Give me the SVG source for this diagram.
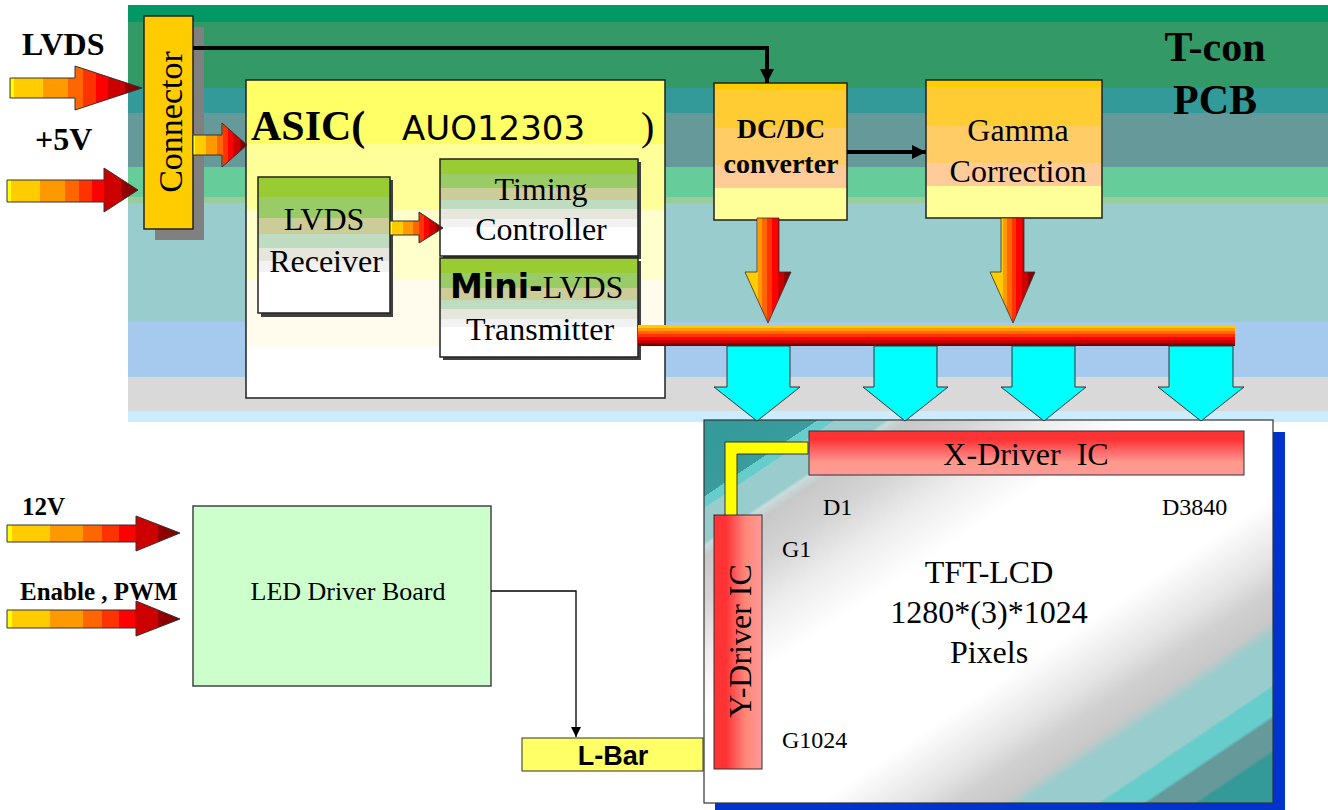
<svg xmlns="http://www.w3.org/2000/svg" width="1328" height="810" viewBox="0 0 1328 810">
<style>
.serif{font-family:"Liberation Serif","Times New Roman",serif;fill:#000}
.sans{font-family:"Liberation Sans",Arial,sans-serif;fill:#000}
.dv{font-family:"DejaVu Sans",Verdana,sans-serif;fill:#000}
.b{font-weight:bold}
.box{stroke:#222;stroke-width:1.5}
.shadow{fill:#404040}
.cyan{fill:#00FFFF;stroke:#333;stroke-width:1}
.thick{stroke:#000;stroke-width:4;fill:none}
</style>
<defs>
<linearGradient id="gIn" x1="0" y1="0" x2="1" y2="0">
<stop offset="0" stop-color="#FFFF00"/><stop offset="0.03" stop-color="#FFFF00"/>
<stop offset="0.03" stop-color="#FFCC00"/><stop offset="0.25" stop-color="#FFCC00"/>
<stop offset="0.25" stop-color="#FF9900"/><stop offset="0.44" stop-color="#FF9900"/>
<stop offset="0.44" stop-color="#FF6600"/><stop offset="0.55" stop-color="#FF6600"/>
<stop offset="0.55" stop-color="#FF3300"/><stop offset="0.65" stop-color="#FF3300"/>
<stop offset="0.65" stop-color="#FF0000"/><stop offset="0.74" stop-color="#FF0000"/>
<stop offset="0.74" stop-color="#CC0000"/><stop offset="0.87" stop-color="#CC0000"/>
<stop offset="0.87" stop-color="#990000"/><stop offset="1" stop-color="#770000"/>
</linearGradient>
<linearGradient id="gDown" x1="0" y1="0" x2="1" y2="0">
<stop offset="0" stop-color="#FFCC00"/><stop offset="0.28" stop-color="#FFCC00"/>
<stop offset="0.28" stop-color="#FF9900"/><stop offset="0.38" stop-color="#FF9900"/>
<stop offset="0.38" stop-color="#FF6600"/><stop offset="0.48" stop-color="#FF6600"/>
<stop offset="0.48" stop-color="#FF3300"/><stop offset="0.58" stop-color="#FF3300"/>
<stop offset="0.58" stop-color="#FF0000"/><stop offset="0.72" stop-color="#FF0000"/>
<stop offset="0.72" stop-color="#CC0000"/><stop offset="0.85" stop-color="#CC0000"/>
<stop offset="0.85" stop-color="#990000"/><stop offset="1" stop-color="#770000"/>
</linearGradient>
<linearGradient id="gBus" x1="0" y1="0" x2="0" y2="1">
<stop offset="0" stop-color="#FFCC00"/><stop offset="0.15" stop-color="#FFCC00"/>
<stop offset="0.15" stop-color="#FF9900"/><stop offset="0.28" stop-color="#FF9900"/>
<stop offset="0.28" stop-color="#FF6600"/><stop offset="0.42" stop-color="#FF6600"/>
<stop offset="0.42" stop-color="#FF3300"/><stop offset="0.56" stop-color="#FF3300"/>
<stop offset="0.56" stop-color="#FF0000"/><stop offset="0.7" stop-color="#FF0000"/>
<stop offset="0.7" stop-color="#CC0000"/><stop offset="0.85" stop-color="#CC0000"/>
<stop offset="0.85" stop-color="#880000"/><stop offset="1" stop-color="#660000"/>
</linearGradient>
<linearGradient id="gAsic" x1="0" y1="0" x2="0" y2="1">
<stop offset="0" stop-color="#FFFF66"/><stop offset="0.2" stop-color="#FFFF66"/>
<stop offset="0.2" stop-color="#FFFF99"/><stop offset="0.41" stop-color="#FFFF99"/>
<stop offset="0.41" stop-color="#FFFFCC"/><stop offset="0.63" stop-color="#FFFFCC"/>
<stop offset="0.63" stop-color="#FFFCEE"/><stop offset="0.84" stop-color="#FFFCEE"/>
<stop offset="0.84" stop-color="#FFFFFF"/><stop offset="1" stop-color="#FFFFFF"/>
</linearGradient>
<linearGradient id="gGreen" x1="0" y1="0" x2="0" y2="1">
<stop offset="0" stop-color="#99CC33"/><stop offset="0.15" stop-color="#99CC33"/>
<stop offset="0.15" stop-color="#99CC66"/><stop offset="0.3" stop-color="#99CC66"/>
<stop offset="0.3" stop-color="#CCCC99"/><stop offset="0.42" stop-color="#CCCC99"/>
<stop offset="0.42" stop-color="#C0DCC0"/><stop offset="0.52" stop-color="#C0DCC0"/>
<stop offset="0.52" stop-color="#E6E6DC"/><stop offset="0.62" stop-color="#E6E6DC"/>
<stop offset="0.62" stop-color="#F2F2F2"/><stop offset="0.7" stop-color="#F2F2F2"/>
<stop offset="0.7" stop-color="#FFFFFF"/><stop offset="1" stop-color="#FFFFFF"/>
</linearGradient>
<linearGradient id="gOrange" x1="0" y1="0" x2="0" y2="1">
<stop offset="0" stop-color="#FFCC00"/><stop offset="0.05" stop-color="#FFCC00"/>
<stop offset="0.05" stop-color="#FFCC33"/><stop offset="0.33" stop-color="#FFCC33"/>
<stop offset="0.33" stop-color="#FFCC66"/><stop offset="0.6" stop-color="#FFCC66"/>
<stop offset="0.6" stop-color="#FFCC99"/><stop offset="0.77" stop-color="#FFCC99"/>
<stop offset="0.77" stop-color="#FFFF99"/><stop offset="1" stop-color="#FFFF99"/>
</linearGradient>
<linearGradient id="gX" x1="0" y1="0" x2="0" y2="1">
<stop offset="0" stop-color="#FF3333"/><stop offset="0.2" stop-color="#FF3333"/>
<stop offset="0.45" stop-color="#FF6666"/><stop offset="0.6" stop-color="#FF8080"/>
<stop offset="0.7" stop-color="#FF9988"/><stop offset="1" stop-color="#FF9999"/>
</linearGradient>
<linearGradient id="gY" x1="0" y1="0" x2="1" y2="0">
<stop offset="0" stop-color="#FF3333"/><stop offset="0.25" stop-color="#FF3333"/>
<stop offset="0.5" stop-color="#FF6666"/><stop offset="0.65" stop-color="#FF8877"/>
<stop offset="1" stop-color="#FF9999"/>
</linearGradient>
<linearGradient id="gPanel" x1="0" y1="0" x2="1" y2="1">
<stop offset="0" stop-color="#339999"/><stop offset="0.1" stop-color="#3A9C9C"/>
<stop offset="0.1" stop-color="#66CCCC"/><stop offset="0.115" stop-color="#66CCCC"/>
<stop offset="0.115" stop-color="#99CCCC"/><stop offset="0.16" stop-color="#99CCCC"/>
<stop offset="0.165" stop-color="#C8DCDC"/><stop offset="0.18" stop-color="#C8C8C8"/>
<stop offset="0.235" stop-color="#D4D4D4"/><stop offset="0.3" stop-color="#ECECEC"/>
<stop offset="0.38" stop-color="#FFFFFF"/><stop offset="0.6" stop-color="#FFFFFF"/>
<stop offset="0.68" stop-color="#E4E4E4"/><stop offset="0.72" stop-color="#D0D0D0"/>
<stop offset="0.76" stop-color="#C8C8C8"/><stop offset="0.78" stop-color="#99CCCC"/>
<stop offset="0.845" stop-color="#99CCCC"/><stop offset="0.85" stop-color="#66CCCC"/>
<stop offset="0.885" stop-color="#66CCCC"/><stop offset="0.89" stop-color="#669999"/>
<stop offset="0.93" stop-color="#669999"/><stop offset="0.935" stop-color="#339999"/>
<stop offset="1" stop-color="#339999"/>
</linearGradient>
<marker id="mBig" markerUnits="userSpaceOnUse" markerWidth="16" markerHeight="16" refX="14" refY="8" orient="auto">
<path d="M0,1 L14,8 L0,15 Z" fill="#000"/>
</marker>
<marker id="mSmall" markerUnits="userSpaceOnUse" markerWidth="12" markerHeight="12" refX="10" refY="6" orient="auto">
<path d="M0,1 L10,6 L0,11 Z" fill="#000"/>
</marker>
</defs>

<rect width="1328" height="810" fill="#FFFFFF"/>

<g id="tcon-pcb">
<rect x="128" y="5" width="1200" height="17" fill="#009966"/>
<rect x="128" y="22" width="1200" height="66" fill="#339966"/>
<rect x="128" y="88" width="1200" height="25" fill="#339999"/>
<rect x="128" y="113" width="1200" height="54" fill="#669999"/>
<rect x="128" y="167" width="1200" height="30" fill="#66CC99"/>
<rect x="128" y="197" width="1200" height="6" fill="#99CC99"/>
<rect x="128" y="203" width="1200" height="119" fill="#99CCCC"/>
<rect x="128" y="322" width="1200" height="55" fill="#A6C9EE"/>
<rect x="128" y="377" width="1200" height="34" fill="#D9D9D9"/>
<rect x="128" y="411" width="1200" height="11" fill="#CCECFF"/>
<text class="serif b" x="1215" y="61" font-size="42" text-anchor="middle">T-con</text>
<text class="serif b" x="1215" y="114" font-size="42" text-anchor="middle">PCB</text>
</g>

<g id="inputs">
<text class="serif b" x="22" y="55" font-size="32">LVDS</text>
<text class="serif b" x="35" y="150" font-size="32">+5V</text>
<polygon points="10,78 75,78 75,66 142,88 75,110 75,98 10,98" fill="url(#gIn)" stroke="#333" stroke-width="1"/>
<polygon points="7,180 104,180 104,168 138,190 104,212 104,202 7,202" fill="url(#gIn)" stroke="#333" stroke-width="1"/>
</g>

<g id="connector">
<rect x="155" y="27" width="49" height="213" fill="#808080"/>
<rect x="144" y="16" width="49" height="213" fill="#FFCC00" class="box"/>
<text class="serif" font-size="34" text-anchor="middle" transform="translate(182,122) rotate(-90)">Connector</text>
</g>

<g id="asic">
<rect x="246" y="80" width="419" height="318" fill="url(#gAsic)" class="box"/>
<text class="serif b" x="251" y="140" font-size="42">ASIC(</text>
<text class="dv" x="402" y="140" font-size="34">AUO12303</text>
<text class="serif" x="641" y="140" font-size="40">)</text>
</g>

<g id="lvds-receiver">
<rect x="261" y="180" width="132" height="137" class="shadow"/>
<rect x="258" y="177" width="132" height="136" fill="url(#gGreen)" class="box"/>
<text class="serif" x="324" y="230" font-size="32" text-anchor="middle">LVDS</text>
<text class="serif" x="326" y="272" font-size="32" text-anchor="middle">Receiver</text>
</g>

<g id="timing-controller">
<rect x="443" y="162" width="198" height="97" class="shadow"/>
<rect x="440" y="159" width="198" height="97" fill="url(#gGreen)" class="box"/>
<text class="serif" x="541" y="200" font-size="32" text-anchor="middle">Timing</text>
<text class="serif" x="541" y="240" font-size="32" text-anchor="middle">Controller</text>
</g>

<g id="mini-lvds">
<rect x="443" y="261" width="198" height="99" class="shadow"/>
<rect x="440" y="258" width="198" height="99" fill="url(#gGreen)" class="box"/>
<text x="450" y="298"><tspan class="dv b" font-size="33">Mini-</tspan><tspan class="serif" font-size="32">LVDS</tspan></text>
<text class="serif" x="540" y="340" font-size="32" text-anchor="middle">Transmitter</text>
</g>

<g id="dcdc">
<rect x="714" y="83" width="133" height="137" fill="url(#gOrange)" class="box"/>
<text class="serif b" x="781" y="138" font-size="28" text-anchor="middle">DC/DC</text>
<text class="serif b" x="781" y="173" font-size="28" text-anchor="middle">converter</text>
</g>

<g id="gamma">
<rect x="926" y="80" width="176" height="138" fill="url(#gOrange)" class="box"/>
<text class="serif" x="1018" y="141" font-size="32" text-anchor="middle">Gamma</text>
<text class="serif" x="1018" y="182" font-size="32" text-anchor="middle">Correction</text>
</g>

<g id="led-driver">
<rect x="193" y="506" width="298" height="180" fill="#CCFFCC" stroke="#444" stroke-width="1.5"/>
<text class="serif" x="348" y="600" font-size="26" text-anchor="middle">LED Driver Board</text>
<text class="serif b" x="22" y="515" font-size="25">12V</text>
<text class="serif b" x="20" y="600" font-size="25">Enable , PWM</text>
<polygon points="7,525 136,525 136,516 180,533 136,551 136,542 7,542" fill="url(#gIn)" stroke="#333" stroke-width="1"/>
<polygon points="7,610 136,610 136,601 180,619 136,636 136,628 7,628" fill="url(#gIn)" stroke="#333" stroke-width="1"/>
</g>

<g id="lcd-panel">
<rect x="715" y="432" width="570" height="378" fill="#0033CC"/>
<rect x="704" y="420" width="569" height="383" fill="url(#gPanel)" stroke="#333" stroke-width="1.2"/>
<rect x="809" y="431" width="435" height="44" fill="url(#gX)" stroke="#333" stroke-width="1"/>
<text class="serif" x="1026" y="465" font-size="32" text-anchor="middle" xml:space="preserve">X-Driver  IC</text>
<polygon points="725,442 808,442 808,454 737,454 737,516 725,516" fill="#FFFF00" stroke="#333" stroke-width="1"/>
<rect x="714" y="515" width="48" height="254" fill="url(#gY)" stroke="#333" stroke-width="1"/>
<text class="serif" font-size="32" text-anchor="middle" transform="translate(751,641) rotate(-90)">Y-Driver IC</text>
<text class="serif" x="823" y="515" font-size="24">D1</text>
<text class="serif" x="1162" y="515" font-size="24">D3840</text>
<text class="serif" x="782" y="557" font-size="24">G1</text>
<text class="serif" x="782" y="748" font-size="24">G1024</text>
<text class="serif" x="989" y="583" font-size="32" text-anchor="middle">TFT-LCD</text>
<text class="serif" x="989" y="623" font-size="32" text-anchor="middle">1280*(3)*1024</text>
<text class="serif" x="989" y="663" font-size="32" text-anchor="middle">Pixels</text>
</g>

<g id="l-bar">
<rect x="522" y="738" width="181" height="33" fill="#FFFF66" stroke="#333" stroke-width="1"/>
<text class="sans b" x="613" y="765" font-size="27" text-anchor="middle">L-Bar</text>
</g>

<g id="connectors">
<path class="thick" d="M193,48 H767 V83" marker-end="url(#mBig)"/>
<path class="thick" d="M847,152 H926" marker-end="url(#mBig)"/>
<polygon points="193,135 222,135 222,123 247,145 222,167 222,155 193,155" fill="url(#gIn)" stroke="#333" stroke-width="1"/>
<polygon points="390,221 419,221 419,212 443,228 419,243 419,235 390,235" fill="url(#gIn)" stroke="#333" stroke-width="1"/>
<polygon points="757,218 779,218 779,272 791,272 768,323 745,272 757,272" fill="url(#gDown)" stroke="#333" stroke-width="0.8"/>
<polygon points="1001,218 1024,218 1024,272 1035,272 1013,323 990,272 1001,272" fill="url(#gDown)" stroke="#333" stroke-width="0.8"/>
<rect x="638" y="325" width="597" height="21" fill="url(#gBus)"/>
<polygon class="cyan" points="727,346 790,346 790,387 800,387 757,421 714,387 727,387"/>
<polygon class="cyan" points="874,346 937,346 937,387 948,387 905,421 863,387 874,387"/>
<polygon class="cyan" points="1012,346 1075,346 1075,387 1086,387 1044,421 1001,387 1012,387"/>
<polygon class="cyan" points="1169,346 1233,346 1233,387 1244,387 1201,421 1158,387 1169,387"/>
<path d="M491,591 H576 V737" fill="none" stroke="#000" stroke-width="1.3" marker-end="url(#mSmall)"/>
</g>
</svg>
